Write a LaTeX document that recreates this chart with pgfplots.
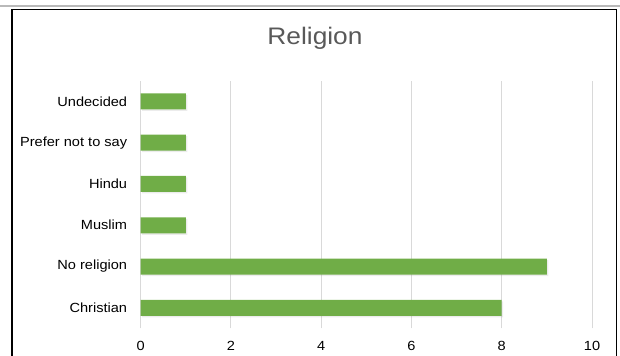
\documentclass[border=0pt]{standalone}
\usepackage{fontspec}
\setmainfont{Liberation Sans}[FakeStretch=1.1]
\usepackage{pgfplots}
\pgfplotsset{compat=1.18}
\usetikzlibrary{shadows}
\definecolor{bargreen}{HTML}{70AD47}
\definecolor{gridgray}{HTML}{D9D9D9}
\definecolor{titlegray}{HTML}{595959}
\begin{document}
\begin{tikzpicture}
\path[use as bounding box] (0,0) rectangle (620bp,356bp);
\draw[gray!55, line width=2bp] (0,350bp) -- (620bp,350bp);
\draw[black, line width=1.5bp] (12bp,-2bp) -- (12bp,346.7bp) -- (616.7bp,346.7bp) -- (616.7bp,-2bp);
\node[anchor=base, text=titlegray, font=\fontsize{24}{28}\selectfont, inner sep=0pt] at (315bp,311.7bp) {Religion};
\begin{axis}[
  at={(140.7bp,27.5bp)}, anchor=south west,
  scale only axis, width=451.3bp, height=247.8bp,
  xbar, bar width=16bp,
  xmin=0, xmax=10, ymin=-0.5, ymax=5.5,
  xtick={0,2,...,10},
  ytick={0,1,2,3,4,5},
  yticklabels={Christian,No religion,Muslim,Hindu,Prefer not to say,Undecided},
  axis line style={draw=none},
  major tick length=0pt,
  xmajorgrids, major grid style={gridgray, line width=1bp},
  /pgf/number format/assume math mode=true,
  ticklabel style={font=\fontsize{13.3}{16}\selectfont, text=black},
  yticklabel style={anchor=east, inner sep=0pt, xshift=-13.4bp},
  xticklabel style={anchor=north, inner sep=0pt, yshift=-12.5bp},
]
\addplot[fill=bargreen, draw=none, drop shadow={shadow xshift=1.5bp, shadow yshift=-1.5bp, opacity=0.15}] coordinates {(8,0) (9,1) (1,2) (1,3) (1,4) (1,5)};
\end{axis}
\end{tikzpicture}
\end{document}
